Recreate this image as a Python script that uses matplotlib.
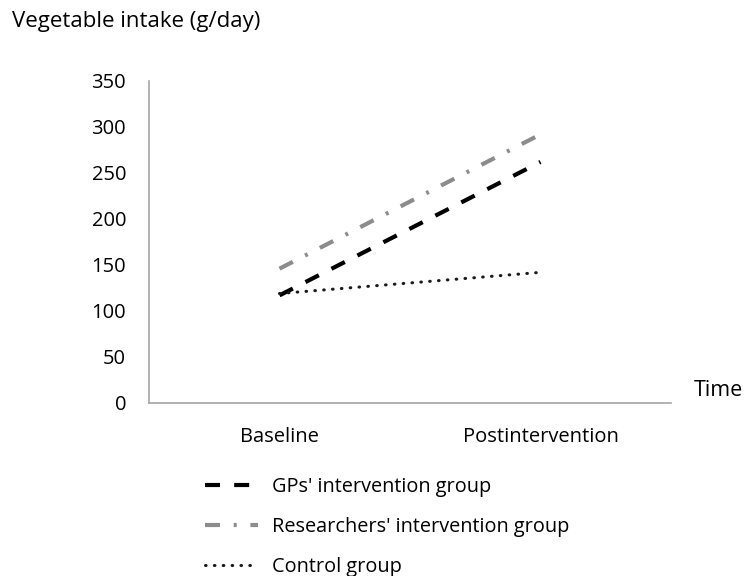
import matplotlib
matplotlib.use("Agg")
import matplotlib.pyplot as plt

plt.rcParams['font.family'] = ['Open Sans', 'DejaVu Sans']

categories = ["Baseline", "Postintervention"]
gp_values = [117, 262]
researchers_values = [146, 292]
control_values = [119, 142]
y_ticks = [0, 50, 100, 150, 200, 250, 300, 350]
series_labels = ["GPs' intervention group", "Researchers' intervention group", "Control group"]

W, H = 747, 576
fig = plt.figure(figsize=(W / 100, H / 100), dpi=100)
# axes: x 149..671 px, y 81..403 px
ax = fig.add_axes([149 / W, 1 - 403 / H, (671 - 149) / W, (403 - 81) / H])

x = [0, 1]
l1, = ax.plot(x, gp_values, color="black", lw=3.0, dashes=(3.6, 3.4))
l2, = ax.plot(x, researchers_values, color="#8c8c8c", lw=3.0, dashes=(3.6, 3.3, 0.7, 3.3))
l3, = ax.plot(x, control_values, color="#1a1a1a", lw=2.2, dashes=(0.2, 2.7), dash_capstyle="round")

ax.set_xlim(-0.5, 1.5)
ax.set_ylim(0, 350)
ax.set_yticks(y_ticks)
ax.set_yticklabels([str(v) for v in y_ticks])
ax.set_xticks(x)
ax.set_xticklabels(categories)
ax.tick_params(axis="both", length=0, labelsize=14.5, colors="black")
ax.tick_params(axis="y", pad=16.5)
ax.tick_params(axis="x", pad=17)
for s in ["top", "right"]:
    ax.spines[s].set_visible(False)
for s in ["left", "bottom"]:
    ax.spines[s].set_color("#a6a6a6")
    ax.spines[s].set_linewidth(1.2)

fig.text(12 / W, 1 - 22 / H, "Vegetable intake (g/day)", fontsize=16, va="center", ha="left")
fig.text(694 / W, 1 - 391 / H, "Time", fontsize=15.5, va="center", ha="left")

leg = fig.legend([l1, l2, l3], series_labels, loc="upper left",
                 bbox_to_anchor=(205 / W, 1 - 477 / H), frameon=False,
                 fontsize=14.3, handlelength=2.66, handletextpad=0.7,
                 labelspacing=1.0, borderaxespad=0, borderpad=0)

fig.savefig("out.png", dpi=100, facecolor="white")
